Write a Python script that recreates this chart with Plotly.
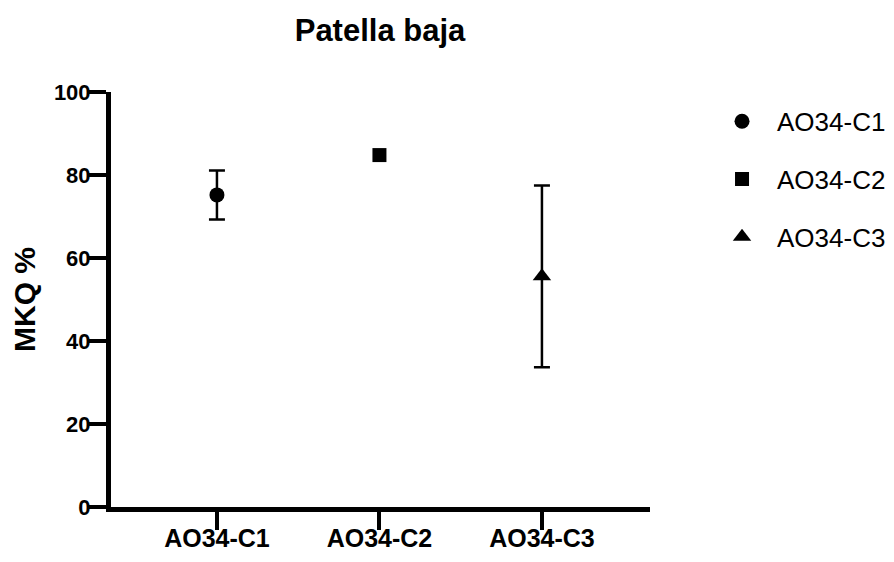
import plotly.graph_objects as go

categories = ["AO34-C1", "AO34-C2", "AO34-C3"]
means = [75.2, 84.8, 55.6]
errors = [5.9, 0.0, 21.9]
symbols = ["circle", "square", "triangle-up"]
marker_sizes = [15, 14, 16]
y_ticks = [0, 20, 40, 60, 80, 100]

FONT = "Liberation Sans, Arial, sans-serif"
W, H = 886, 546

fig = go.Figure()
for i, cat in enumerate(categories):
    fig.add_trace(go.Scatter(
        x=[i], y=[means[i]], mode="markers", name=cat, legendgroup=cat,
        marker=dict(symbol=symbols[i], size=marker_sizes[i], color="black"),
        error_y=dict(type="data", array=[errors[i]], visible=errors[i] > 0,
                     color="black", thickness=2.5, width=8),
    ))

fig.update_layout(
    width=W, height=H,
    margin=dict(l=103, r=244, t=84, b=47, autoexpand=False),
    paper_bgcolor="white", plot_bgcolor="white",
    font=dict(family=FONT, color="black"),
    title=dict(text="<b>Patella baja</b>", x=372 / W, xanchor="center",
               y=1 - 22 / H, yanchor="middle", yref="container",
               font=dict(size=31, family=FONT, color="black")),
    showlegend=True,
    legend=dict(x=1.1058, xref="paper", xanchor="left",
                y=0.986, yref="paper", yanchor="top",
                font=dict(size=26, family=FONT, color="black"),
                itemwidth=60, traceorder="grouped", tracegroupgap=21,
                bgcolor="rgba(0,0,0,0)"),
    xaxis=dict(range=[-0.652, 2.665], tickvals=[0, 1, 2], ticktext=categories,
               showline=True, linecolor="black", linewidth=5,
               ticks="outside", ticklen=18, tickwidth=4, tickcolor="black",
               ticklabelstandoff=-13,
               showgrid=False, zeroline=False,
               tickfont=dict(size=25, family=FONT, color="black", weight="bold")),
    yaxis=dict(range=[0, 100], tickvals=y_ticks,
               showline=True, linecolor="black", linewidth=5,
               ticks="outside", ticklen=17, tickwidth=4, tickcolor="black",
               ticklabelstandoff=-6,
               showgrid=False, zeroline=False,
               tickfont=dict(size=22, family=FONT, color="black", weight="bold"),
               title=dict(text="<b>MKQ %</b>", standoff=17,
                          font=dict(size=30, family=FONT, color="black"))),
)

fig.write_html("out.html")
